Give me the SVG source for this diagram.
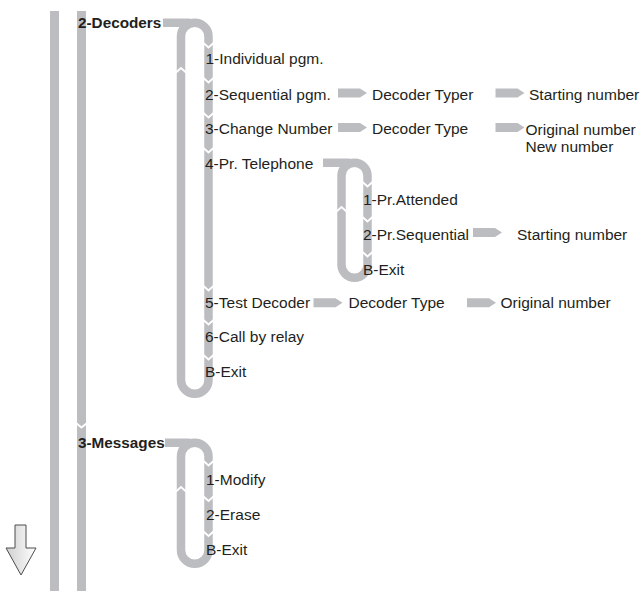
<svg xmlns="http://www.w3.org/2000/svg" width="644" height="591" viewBox="0 0 644 591">
<defs>
<style>
.t{font-family:"Liberation Sans",Arial,sans-serif;font-size:15.5px;fill:#231f20}
.b{font-family:"Liberation Sans",Arial,sans-serif;font-size:15.3px;font-weight:bold;fill:#231f20}
.bar{fill:#bcbdc0}
.loop{fill:none;stroke:#bcbdc0;stroke-width:8.5}
.notch{fill:none;stroke:#fff;stroke-width:1.8}
.arw{fill:#bcbdc0}
</style>
<path id="pa" d="M0 -4.5 H22 L29 0 L22 4.5 H0 Z"/>
<linearGradient id="g" x1="0" y1="0" x2="1" y2="0">
<stop offset="0" stop-color="#cfcfcf"/>
<stop offset="1" stop-color="#ffffff"/>
</linearGradient>
</defs>
<g id="connectors">
<rect class="bar" x="50" y="11" width="9" height="580"/>
<rect class="bar" x="77" y="11" width="9" height="580"/>
<polyline class="notch" points="76,423 81.5,427.5 87,423"/>
<!-- decoders loop -->
<path class="loop" d="M163 22.75 H190"/>
<path class="loop" d="M181 380 V36.5 A13.75 13.75 0 0 1 208.5 36.5 V380 A13.75 13.75 0 0 1 181 380 Z"/>
<g>
<polyline class="notch" points="203.5,43 208.5,47.5 213.5,43"/>
<polyline class="notch" points="203.5,78 208.5,82.5 213.5,78"/>
<polyline class="notch" points="203.5,113 208.5,117.5 213.5,113"/>
<polyline class="notch" points="203.5,148 208.5,152.5 213.5,148"/>
<polyline class="notch" points="203.5,286 208.5,290.5 213.5,286"/>
<polyline class="notch" points="203.5,320 208.5,324.5 213.5,320"/>
<polyline class="notch" points="203.5,355 208.5,359.5 213.5,355"/>
<polyline class="notch" points="176,72.5 181,68 186,72.5"/>
</g>
<!-- telephone loop -->
<path class="loop" d="M323 162.75 H350"/>
<path class="loop" d="M341.5 264.75 V175.75 A13 13 0 0 1 367.5 175.75 V264.75 A13 13 0 0 1 341.5 264.75 Z"/>
<g>
<polyline class="notch" points="362.5,182 367.5,186.5 372.5,182"/>
<polyline class="notch" points="362.5,217 367.5,221.5 372.5,217"/>
<polyline class="notch" points="362.5,252 367.5,256.5 372.5,252"/>
<polyline class="notch" points="336.5,211.5 341.5,207 346.5,211.5"/>
</g>
<!-- messages loop -->
<path class="loop" d="M165 442.75 H190"/>
<path class="loop" d="M181 550 V456.5 A13.75 13.75 0 0 1 208.5 456.5 V550 A13.75 13.75 0 0 1 181 550 Z"/>
<g>
<polyline class="notch" points="203.5,461 208.5,465.5 213.5,461"/>
<polyline class="notch" points="203.5,496.5 208.5,501 213.5,496.5"/>
<polyline class="notch" points="203.5,531.5 208.5,536 213.5,531.5"/>
<polyline class="notch" points="176,491.5 181,487 186,491.5"/>
</g>
<!-- small arrows -->
<use href="#pa" class="arw" transform="translate(338 93)"/>
<use href="#pa" class="arw" transform="translate(495.5 93)"/>
<use href="#pa" class="arw" transform="translate(338 127.5)"/>
<use href="#pa" class="arw" transform="translate(495.5 127.5)"/>
<use href="#pa" class="arw" transform="translate(473 232.5)"/>
<use href="#pa" class="arw" transform="translate(313.5 302.8)"/>
<use href="#pa" class="arw" transform="translate(467 302.8)"/>
<!-- down arrow -->
<path d="M15 525 H26 V548 H36 L21 575 L6 548 H15 Z" fill="url(#g)" stroke="#4d4d4d" stroke-width="1"/>
</g>
<g id="n-decoders"><text class="b" x="78" y="28">2-Decoders</text></g>
<g id="n-d1"><text class="t" x="205.5" y="64">1-Individual pgm.</text></g>
<g id="n-d2"><text class="t" x="205" y="99.5">2-Sequential pgm.</text></g>
<g id="n-d2a"><text class="t" x="372" y="99.5">Decoder Typer</text></g>
<g id="n-d2b"><text class="t" x="529" y="99.5">Starting number</text></g>
<g id="n-d3"><text class="t" x="205" y="134">3-Change Number</text></g>
<g id="n-d3a"><text class="t" x="372" y="134">Decoder Type</text></g>
<g id="n-d3b"><text class="t" x="525.5" y="134.5">Original number</text><text class="t" x="525.5" y="151.5">New number</text></g>
<g id="n-d4"><text class="t" x="205" y="169">4-Pr. Telephone</text></g>
<g id="n-t1"><text class="t" x="363" y="205">1-Pr.Attended</text></g>
<g id="n-t2"><text class="t" x="363" y="240">2-Pr.Sequential</text></g>
<g id="n-t2a"><text class="t" x="517" y="240">Starting number</text></g>
<g id="n-tb"><text class="t" x="363" y="275">B-Exit</text></g>
<g id="n-d5"><text class="t" x="205" y="308">5-Test Decoder</text></g>
<g id="n-d5a"><text class="t" x="348.5" y="308">Decoder Type</text></g>
<g id="n-d5b"><text class="t" x="500.5" y="308">Original number</text></g>
<g id="n-d6"><text class="t" x="205" y="342">6-Call by relay</text></g>
<g id="n-db"><text class="t" x="205" y="377">B-Exit</text></g>
<g id="n-messages"><text class="b" x="78" y="447.5">3-Messages</text></g>
<g id="n-m1"><text class="t" x="206" y="485">1-Modify</text></g>
<g id="n-m2"><text class="t" x="206" y="519.5">2-Erase</text></g>
<g id="n-mb"><text class="t" x="206" y="555">B-Exit</text></g>
</svg>
